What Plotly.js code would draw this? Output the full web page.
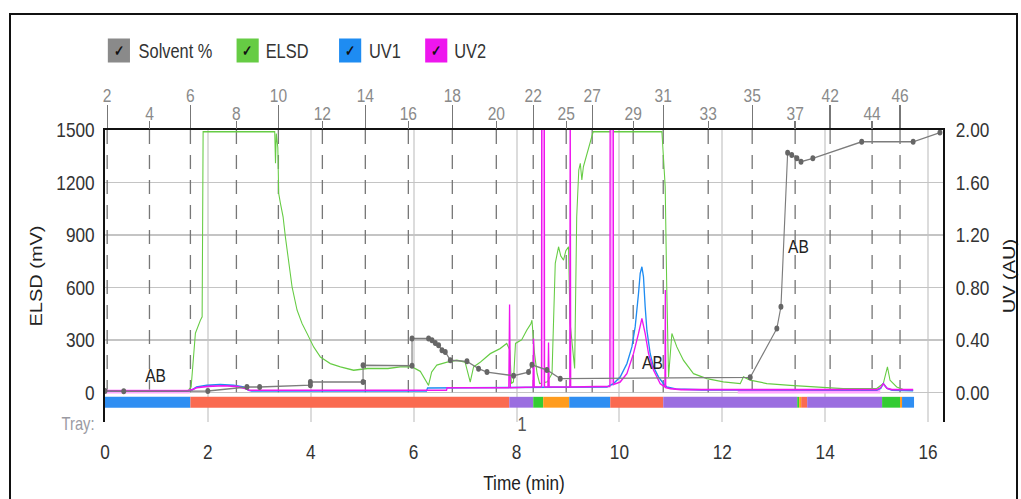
<!DOCTYPE html>
<html><head><meta charset="utf-8">
<script src="https://cdn.plot.ly/plotly-3.0.1.min.js"></script>
<style>
html,body{margin:0;padding:0;background:#fff;overflow:hidden;width:1021px;height:499px}
#chart{position:absolute;left:0;top:0;width:1245px;height:499px;transform:scaleX(0.82);transform-origin:0 0}
#frame{position:absolute;left:9px;top:13px;width:1005px;height:520px;border:2px solid #111;border-bottom:none;pointer-events:none}
</style></head><body>
<div id="chart"></div><div id="frame"></div>
<script>
// ---------- data ----------
const timeTicks = [0, 2, 4, 6, 8, 10, 12, 14, 16];
const elsdTicks = [0, 300, 600, 900, 1200, 1500];
const uvTicks = [0, 0.4, 0.8, 1.2, 1.6, 2.0];

const fracUpperTubes = ['2','6','10','14','18','22','27','31','35','42','46'];
const fracUpperTimes = [0.043, 1.661, 3.371, 5.061, 6.752, 8.325, 9.471, 10.852, 12.581, 14.096, 15.455];
const fracLowerTubes = ['4','8','12','16','20','25','29','33','37','44'];
const fracLowerTimes = [0.865, 2.555, 4.226, 5.897, 7.607, 8.966, 10.268, 11.726, 13.416, 14.912];

const elsdTime = [0, 1.60, 1.675, 1.71, 1.758, 1.855, 1.889, 1.908, 3.30, 3.315,
  3.33, 3.36, 3.377, 3.41, 3.462, 3.507, 3.571, 3.637, 3.734, 3.831,
  3.929, 4.057, 4.187, 4.381, 4.577, 4.834, 5.10, 5.50, 5.74, 5.97,
  6.13, 6.29, 6.35, 6.45, 6.65, 6.84, 7.00, 7.10, 7.165, 7.30,
  7.49, 7.68, 7.81, 7.87, 7.90, 7.94, 7.98, 8.10, 8.20, 8.28,
  8.30, 8.35, 8.40, 8.45, 8.60, 8.69, 8.753, 8.817, 8.86, 8.914,
  8.96, 9.011, 9.04, 9.13, 9.17, 9.21, 9.24, 9.27, 9.30, 9.37,
  9.43, 9.49, 10.826, 10.89, 10.92, 10.955, 11.02, 11.117, 11.245, 11.44,
  11.70, 12.02, 12.35, 12.41, 12.54, 12.866, 13.32, 13.84, 14.35, 15.00,
  15.13, 15.21, 15.26, 15.39, 15.52, 15.71];
const elsdMv = [5, 5, 30, 150, 338, 412, 431, 1490, 1490, 1310,
  1480, 1400, 1138, 1082, 1004, 889, 756, 603, 470, 393,
  336, 259, 202, 164, 145, 126, 136, 136, 145, 145,
  120, 40, 116, 155, 173, 183, 173, 59, 145, 173,
  221, 250, 279, 240, 50, 60, 280, 300, 355, 393,
  412, 222, 107, 50, 60, 107, 737, 832, 780, 756,
  810, 832, 400, 136, 1004, 1271, 1309, 1214, 1290, 1366,
  1423, 1490, 1490, 1175, 603, 88, 336, 259, 183, 107,
  78, 59, 50, 88, 69, 50, 40, 30, 21, 21,
  50, 145, 69, 30, 15, 12];

const uv1Time = [0, 1.60, 1.70, 1.78, 1.98, 2.24, 2.50, 2.70, 2.79, 2.85,
  6.25, 6.27, 9.757, 9.885, 10.016, 10.146, 10.243, 10.307, 10.371, 10.404,
  10.437, 10.468, 10.501, 10.534, 10.598, 10.663, 10.76, 10.857, 10.923, 11.10,
  11.60, 15.00, 15.08, 15.13, 15.20, 15.30, 15.71];
const uv1Au = [0.008, 0.008, 0.02, 0.04, 0.053, 0.059, 0.053, 0.04, 0.015, 0.01,
  0.01, 0.033, 0.04, 0.066, 0.117, 0.219, 0.346, 0.5, 0.753, 0.906,
  0.957, 0.88, 0.651, 0.473, 0.295, 0.193, 0.117, 0.066, 0.04, 0.025,
  0.018, 0.015, 0.03, 0.066, 0.03, 0.015, 0.012];

const uv2Time = [0, 1.60, 1.70, 1.78, 2.00, 2.30, 2.55, 2.72, 2.80, 6.64,
  6.65, 7.85, 7.865, 7.88, 8.32, 8.331, 8.345, 8.485, 8.49, 8.54,
  8.545, 8.61, 8.622, 8.635, 9.035, 9.044, 9.053, 9.815, 9.82, 9.88,
  9.885, 10.016, 10.146, 10.274, 10.371, 10.437, 10.501, 10.566, 10.663, 10.793,
  10.885, 10.893, 10.90, 10.99, 11.20, 15.00, 15.08, 15.13, 15.20, 15.30,
  15.71];
const uv2Au = [0.012, 0.012, 0.02, 0.035, 0.045, 0.05, 0.045, 0.03, 0.015, 0.015,
  0.035, 0.035, 0.67, 0.035, 0.04, 0.41, 0.04, 0.04, 2.3, 2.3,
  0.04, 0.04, 0.38, 0.04, 0.04, 2.3, 0.04, 0.045, 2.3, 2.3,
  0.06, 0.079, 0.143, 0.295, 0.448, 0.563, 0.448, 0.295, 0.168, 0.066,
  0.04, 0.78, 0.035, 0.028, 0.02, 0.02, 0.035, 0.066, 0.03, 0.02,
  0.02];

// UV2 portions sent to waste (drawn pale and thick)
const uv2WasteTime = [0, 1.65, null, 8.517, 8.517, null, 9.852, 9.852, null, 12.3, 15.07];
const uv2WasteAu = [0.006, 0.006, null, 0.04, 2.3, null, 0.05, 2.3, null, 0.005, 0.005];

const solvTime = [0, 0.365, 2.00, 2.76, 3.007, 3.993, 3.993, 5.017, 5.017, 5.969,
  5.969, 6.291, 6.357, 6.421, 6.485, 6.551, 6.615, 6.713, 7.037, 7.262,
  7.426, 7.943, 8.234, 8.30, 8.59, 8.85, 12.543, 13.06, 13.14, 13.27,
  13.35, 13.45, 13.53, 13.76, 14.71, 15.71, 16.23];
const solvPct = [0.5, 0.4, 0.5, 2.0, 2.0, 2.7, 3.9, 3.9, 10.3, 10.1,
  20.5, 20.5, 19.8, 18.8, 17.9, 16.0, 15.4, 12.2, 11.8, 9.0,
  7.7, 6.3, 7.7, 10.5, 8.5, 5.2, 5.7, 24.3, 32.6, 91.3,
  90.5, 89.2, 87.9, 89.2, 95.5, 95.5, 99.0];

const abTime = [0.98, 10.64, 13.47];
const abMv = [97, 172, 836];
const abText = ['AB', 'AB', 'AB'];

const trayStart = [0, 1.661, 7.859, 8.325, 8.519, 9.025, 9.822, 10.852, 13.456, 13.494, 13.533, 13.65, 15.106, 15.455, 15.494];
const trayEnd   = [1.661, 7.859, 8.325, 8.519, 9.025, 9.822, 10.852, 13.456, 13.494, 13.533, 13.65, 15.106, 15.455, 15.494, 15.727];
const trayKind  = ['blue','red','purple','green','orange','blue','red','purple','green','orange','red','purple','green','orange','blue'];
const trayLabelTime = [8.1];
const trayLabelText = ['1'];

const legendNames = ['Solvent %', 'ELSD', 'UV1', 'UV2'];

// ---------- styling ----------
const FONT = '"Liberation Sans", Arial, sans-serif';
const C = {solv:'#8a8a8a', elsd:'#66cc44', uv1:'#1e8cf2', uv2:'#ee16ee', waste:'#ffa6ff'};
const trayColors = {blue:'#2f8ef2', red:'#fa6a50', purple:'#9b6ee0', green:'#33cc33', orange:'#ff9c1e'};
const legendColors = [C.solv, C.elsd, C.uv1, C.uv2];

const S = 0.82;                          // horizontal squeeze of the page
const W = 1245, H = 499;
const X0 = 128, PW = 1022, Y0 = 130, PH = 292;   // plot box in un-squeezed px
const px2paperX = p => (p / S - X0) / PW;        // p: final page px
const px2paperY = p => (Y0 + PH - p) / PH;
const TMAX = 16.29, YMIN = -170, YMAX = 1500;

const traces = [
  {type:'bar', orientation:'h', x: trayEnd.map((e,i)=>e-trayStart[i]), base: trayStart,
   y: trayStart.map(()=>-57), width: 62, marker:{color: trayKind.map(k=>trayColors[k]), line:{width:0}},
   xaxis:'x', yaxis:'y', hoverinfo:'skip', showlegend:false},
  {type:'scatter', mode:'lines', x: uv2WasteTime, y: uv2WasteAu, xaxis:'x', yaxis:'y2',
   line:{color:C.waste, width:4}, connectgaps:false, hoverinfo:'skip', showlegend:false},
  {type:'scatter', mode:'lines+markers', name:'Solvent %', x: solvTime, y: solvPct, xaxis:'x', yaxis:'y3',
   line:{color:'#7c7c7c', width:1.4}, marker:{color:'#666', size:6}, showlegend:false},
  {type:'scatter', mode:'lines', name:'ELSD', x: elsdTime, y: elsdMv, xaxis:'x', yaxis:'y',
   line:{color:C.elsd, width:1.3}, showlegend:false},
  {type:'scatter', mode:'lines', name:'UV1', x: uv1Time, y: uv1Au, xaxis:'x', yaxis:'y2',
   line:{color:C.uv1, width:1.6}, showlegend:false},
  {type:'scatter', mode:'lines', name:'UV2', x: uv2Time, y: uv2Au, xaxis:'x', yaxis:'y2',
   line:{color:C.uv2, width:1.6}, showlegend:false},
  {type:'scatter', mode:'markers', x:[fracUpperTimes[0]], y:[null], xaxis:'x2', yaxis:'y', hoverinfo:'skip', showlegend:false},
  {type:'scatter', mode:'markers', x:[fracLowerTimes[0]], y:[null], xaxis:'x3', yaxis:'y', hoverinfo:'skip', showlegend:false}
];

const shapes = [];
shapes.push({type:'rect', xref:'paper', yref:'y', x0:0, x1:1, y0:YMIN, y1:-88, fillcolor:'#fff', line:{width:0}, layer:'between'});
fracUpperTimes.concat(fracLowerTimes).forEach(t => {
  shapes.push({type:'line', xref:'x', yref:'y', x0:t, x1:t, y0:YMAX, y1:0,
    line:{color:'#777', width:1.6, dash:'14px,11px'}, layer:'between'});
});

const annotations = [];
abTime.forEach((t,i) => annotations.push({x:t, y:abMv[i], xref:'x', yref:'y', text:abText[i], showarrow:false,
  xanchor:'center', yanchor:'middle', font:{family:FONT, size:19, color:'#222'}}));
annotations.push({x:px2paperX(78), y:px2paperY(424), xref:'paper', yref:'paper', text:'Tray:', showarrow:false,
  xanchor:'center', yanchor:'middle', font:{family:FONT, size:18, color:'#9a9aa2'}});
trayLabelTime.forEach((t,i) => annotations.push({x:t, y:px2paperY(424), xref:'x', yref:'paper', text:trayLabelText[i],
  showarrow:false, xanchor:'center', yanchor:'middle', font:{family:FONT, size:20, color:'#555'}}));
const legBox = [118.5, 247.5, 350, 436.5];
const legText = [137, 264, 367, 453];
legendNames.forEach((n,i) => {
  annotations.push({x:px2paperX(legBox[i]), y:px2paperY(51), xref:'paper', yref:'paper', text:'<b>✓</b>',
    showarrow:false, xanchor:'center', yanchor:'middle', bgcolor:legendColors[i], width:24, height:21, borderpad:1,
    font:{family:FONT, size:15, color:'#111'}});
  annotations.push({x:px2paperX(legText[i]), y:px2paperY(51), xref:'paper', yref:'paper', text:n,
    showarrow:false, xanchor:'left', yanchor:'middle', font:{family:FONT, size:20, color:'#333'}});
});

const layout = {
  width:W, height:H,
  margin:{l:X0, r:W-X0-PW, t:Y0, b:H-Y0-PH, pad:0},
  paper_bgcolor:'#fff', plot_bgcolor:'#fff',
  font:{family:FONT, size:20, color:'#333'},
  showlegend:false,
  barmode:'overlay',
  xaxis:{range:[0,TMAX], tickmode:'array', tickvals:timeTicks, showgrid:true, gridcolor:'#dcdcdc', gridwidth:2.4,
    zeroline:false, showline:false, ticks:'outside', ticklen:11, tickcolor:'rgba(0,0,0,0)',
    tickfont:{family:FONT, size:21, color:'#333'},
    title:{text:'Time (min)', font:{family:FONT, size:21, color:'#222'}, standoff:13}},
  xaxis2:{overlaying:'x', side:'top', anchor:'y', range:[0,TMAX], tickmode:'array', tickvals:fracUpperTimes,
    ticktext:fracUpperTubes, ticks:'outside', ticklen:23, tickwidth:1.6, tickcolor:'#777', ticklabelstandoff:-5,
    showgrid:false, zeroline:false, showline:true, linecolor:'#111', linewidth:2,
    tickfont:{family:FONT, size:19, color:'#8a8a8a'}},
  xaxis3:{overlaying:'x', side:'top', anchor:'y', range:[0,TMAX], tickmode:'array', tickvals:fracLowerTimes,
    ticktext:fracLowerTubes, ticks:'outside', ticklen:8, tickwidth:1.6, tickcolor:'#777', ticklabelstandoff:-7,
    showgrid:false, zeroline:false, showline:false,
    tickfont:{family:FONT, size:19, color:'#8a8a8a'}},
  yaxis:{range:[YMIN,YMAX], tickmode:'array', tickvals:elsdTicks, showgrid:true, gridcolor:'#c4c4c4', gridwidth:1.5,
    zeroline:false, showline:true, linecolor:'#111', linewidth:2.4, ticks:'outside', ticklen:6, tickcolor:'rgba(0,0,0,0)',
    tickfont:{family:FONT, size:21, color:'#333'},
    title:{text:'ELSD (mV)', font:{family:FONT, size:20, color:'#222'}, standoff:12}},
  yaxis2:{overlaying:'y', side:'right', anchor:'x', range:[YMIN/750, YMAX/750], tickmode:'array', tickvals:uvTicks,
    tickformat:'.2f', showgrid:false, zeroline:false, showline:true, linecolor:'#111', linewidth:2.4,
    ticks:'outside', ticklen:9, tickcolor:'rgba(0,0,0,0)',
    tickfont:{family:FONT, size:21, color:'#333'},
    title:{text:'UV (AU)', font:{family:FONT, size:20, color:'#222'}, standoff:19}},
  yaxis3:{overlaying:'y', range:[YMIN/15, 100], visible:false},
  shapes: shapes,
  annotations: annotations
};

Plotly.newPlot('chart', traces, layout, {staticPlot:true, displayModeBar:false});
</script>
</body></html>
